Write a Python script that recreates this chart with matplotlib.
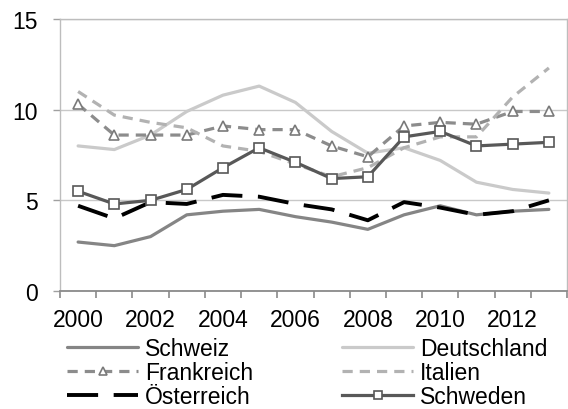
import matplotlib
matplotlib.use("Agg")
import matplotlib.pyplot as plt
import numpy as np

plt.rcParams['font.family'] = ['Liberation Sans', 'DejaVu Sans']

years = list(range(2000, 2014))
tick_years = [2000, 2002, 2004, 2006, 2008, 2010, 2012]

schweiz     = [2.7, 2.5, 3.0, 4.2, 4.4, 4.5, 4.1, 3.8, 3.4, 4.2, 4.7, 4.2, 4.4, 4.5]
deutschland = [8.0, 7.8, 8.6, 9.9, 10.8, 11.3, 10.4, 8.8, 7.6, 7.9, 7.2, 6.0, 5.6, 5.4]
frankreich  = [10.3, 8.6, 8.6, 8.6, 9.1, 8.9, 8.9, 8.0, 7.4, 9.1, 9.3, 9.2, 9.9, 9.9]
italien     = [11.0, 9.7, 9.3, 9.0, 8.0, 7.7, 7.0, 6.3, 6.8, 7.9, 8.5, 8.5, 10.7, 12.3]
oesterreich = [4.7, 4.0, 4.9, 4.8, 5.3, 5.2, 4.8, 4.5, 3.9, 4.9, 4.6, 4.2, 4.4, 5.0]
schweden    = [5.5, 4.8, 5.0, 5.6, 6.8, 7.9, 7.1, 6.2, 6.3, 8.5, 8.8, 8.0, 8.1, 8.2]

x = np.arange(len(years))

fig = plt.figure(figsize=(5.68, 4.10), dpi=100)
ax = fig.add_axes([60/568, 1 - 292/410, 507/568, (292 - 20)/410])

fs = 16.5
lw = 2.3
l1, = ax.plot(x, schweiz, color='#858585', lw=lw, label='Schweiz', solid_capstyle='round')
l2, = ax.plot(x, deutschland, color='#cacaca', lw=lw, label='Deutschland', solid_capstyle='round')
l3, = ax.plot(x, frankreich, color='#8c8c8c', lw=lw, label='Frankreich',
              dashes=(3.2, 2.2), dash_capstyle='butt',
              marker='^', markersize=7, markerfacecolor='white',
              markeredgecolor='#7a7a7a', markeredgewidth=1.2)
l4, = ax.plot(x, italien, color='#b2b2b2', lw=lw, label='Italien',
              dashes=(3.2, 2.2), dash_capstyle='butt')
l5, = ax.plot(x, oesterreich, color='black', lw=2.8, label='Österreich',
              dashes=(8, 4), dash_capstyle='butt')
l6, = ax.plot(x, schweden, color='#585858', lw=lw, label='Schweden',
              marker='s', markersize=6.5, markerfacecolor='white',
              markeredgecolor='#585858', markeredgewidth=1.2)

ax.set_xlim(-0.5, len(years) - 0.5)
ax.set_ylim(0, 15)
ax.set_yticks([0, 5, 10, 15])
ax.set_xticks([years.index(y) for y in tick_years])
ax.set_xticklabels([str(y) for y in tick_years])
ax.set_xticks(np.arange(-0.5, len(years), 1.0), minor=True)

ax.grid(axis='y', color='#c8c8c8', lw=1.0)
ax.set_axisbelow(True)
for side in ['top', 'right', 'left']:
    ax.spines[side].set_color('#bdbdbd')
    ax.spines[side].set_linewidth(1.0)
ax.spines['bottom'].set_color('#8a8a8a')
ax.spines['bottom'].set_linewidth(1.3)

ax.tick_params(axis='x', which='major', length=0, pad=12, labelsize=fs)
ax.tick_params(axis='x', which='minor', length=5, width=1.2, color='#8a8a8a', direction='out')
ax.tick_params(axis='y', length=5, width=1.0, color='#a0a0a0', pad=11, labelsize=fs)

handles = [l1, l3, l5, l2, l4, l6]
leg = fig.legend(handles=handles, labels=[h.get_label() for h in handles],
                 ncol=2, loc='upper left', bbox_to_anchor=(67/568, 1 - 338/410),
                 frameon=False, fontsize=fs, handlelength=3.1, handletextpad=0.3,
                 columnspacing=3.9, labelspacing=0.05, borderpad=0, borderaxespad=0,
                 markerscale=0.85)

fig.savefig('out.png', dpi=100)
